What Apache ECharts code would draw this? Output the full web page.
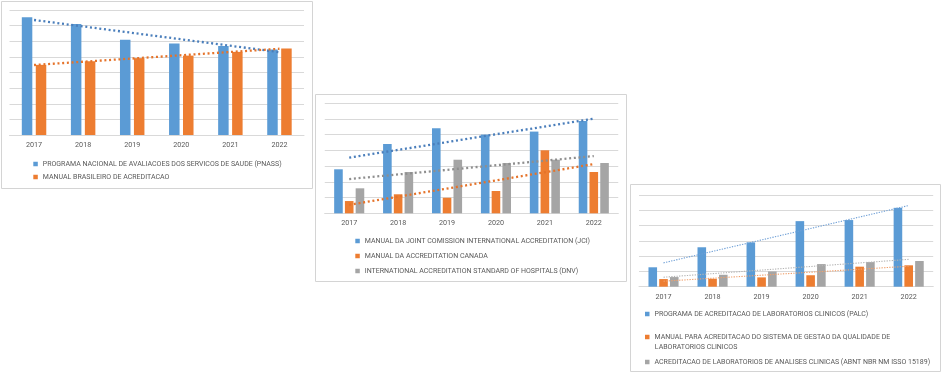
<!DOCTYPE html>
<html>
<head>
<meta charset="utf-8">
<script src="https://cdn.jsdelivr.net/npm/echarts@6/dist/echarts.min.js"></script>
<style>
html,body{margin:0;padding:0;background:#fff;}
#c{width:944px;height:376px;}
</style>
</head>
<body>
<div id="c"></div>
<script>
// ---- data ----
var categories = ['2017', '2018', '2019', '2020', '2021', '2022'];

// panel 1
var pnassName = 'PROGRAMA NACIONAL DE AVALIACOES DOS SERVICOS DE SAUDE (PNASS)';
var mbaName = 'MANUAL BRASILEIRO DE ACREDITACAO';
var pnass = [7.54, 7.10, 6.09, 5.85, 5.70, 5.47];
var mba = [4.49, 4.72, 4.92, 5.08, 5.32, 5.53];
var pnassTrend = [7.36, 5.30];
var mbaTrend = [4.48, 5.52];

// panel 2
var jciName = 'MANUAL DA JOINT COMISSION INTERNATIONAL ACCREDITATION (JCI)';
var canadaName = 'MANUAL DA ACCREDITATION CANADA';
var dnvName = 'INTERNATIONAL ACCREDITATION STANDARD OF HOSPITALS (DNV)';
var jci = [2.80, 4.41, 5.41, 5.01, 5.20, 5.88];
var canada = [0.78, 1.21, 0.99, 1.42, 4.01, 2.63];
var dnv = [1.59, 2.63, 3.41, 3.20, 3.41, 3.20];
var jciTrend = [3.54, 6.02];
var canadaTrend = [0.54, 3.13];
var dnvTrend = [2.18, 3.64];

// panel 3
var palcName = 'PROGRAMA DE ACREDITACAO DE LABORATORIOS CLINICOS (PALC)';
var sgqName = 'MANUAL PARA ACREDITACAO DO SISTEMA DE GESTAO DA QUALIDADE DE\nLABORATORIOS CLINICOS';
var abntName = 'ACREDITACAO DE LABORATORIOS DE ANALISES CLINICAS (ABNT NBR NM ISSO 15189)';
var palc = [1.27, 2.58, 2.90, 4.29, 4.36, 5.16];
var sgq = [0.50, 0.52, 0.61, 0.75, 1.31, 1.40];
var abnt = [0.63, 0.78, 1.00, 1.48, 1.61, 1.68];
var palcTrend = [1.56, 5.31];
var sgqTrend = [0.36, 1.34];
var abntTrend = [0.62, 1.79];

// ---- styles ----
var BLUE = '#5B9BD5', ORANGE = '#ED7D31', GREY = '#A5A5A5';
var FONT = 'Roboto';
var TXT = '#595959';
var GRIDC = '#D9D9D9';

function trendData(t) {
  return [[categories[0], t[0]], [categories[categories.length - 1], t[1]]];
}

function xAxis(gi) {
  return {
    type: 'category', gridIndex: gi, data: categories,
    axisLine: {show: true, lineStyle: {color: GRIDC, width: 1}},
    axisTick: {show: false},
    axisLabel: {color: TXT, fontFamily: FONT, fontSize: 7.2, margin: 6, lineHeight: 8}
  };
}
function yAxis(gi, max) {
  return {
    type: 'value', gridIndex: gi, min: 0, max: max, interval: 1,
    axisLine: {show: false}, axisTick: {show: false}, axisLabel: {show: false},
    splitLine: {lineStyle: {color: GRIDC, width: 1}}
  };
}
function bar(name, data, gi, color, w, gap) {
  return {
    type: 'bar', name: name, data: data, xAxisIndex: gi, yAxisIndex: gi,
    barWidth: w, barGap: gap, itemStyle: {color: color}, z: 2
  };
}
function trend(t, gi, color, width, dash) {
  return {
    type: 'line', data: trendData(t), xAxisIndex: gi, yAxisIndex: gi,
    symbol: 'none', silent: true, z: 4,
    lineStyle: {color: color, width: width, type: dash, cap: 'butt'}
  };
}
function leg(name, left, top, firstLineOnly) {
  var l = {
    data: [name], left: left, top: top, orient: 'vertical', padding: 0,
    icon: 'rect', itemWidth: 4.5, itemHeight: 4.5, selectedMode: false,
    textStyle: {color: TXT, fontFamily: FONT, fontSize: 7, lineHeight: 8}
  };
  if (firstLineOnly) {
    l.formatter = function (n) { return n.split('\n')[0]; };
  }
  return l;
}

var option = {
  animation: false,
  backgroundColor: '#fff',
  graphic: {elements: [
    {type: 'rect', shape: {x: 1.5, y: 1.5, width: 311, height: 187}, style: {fill: 'none', stroke: '#D4D4D4', lineWidth: 1}},
    {type: 'rect', shape: {x: 315.5, y: 94.5, width: 311, height: 187}, style: {fill: 'none', stroke: '#D4D4D4', lineWidth: 1}},
    {type: 'rect', shape: {x: 630.5, y: 184.5, width: 310, height: 187}, style: {fill: 'none', stroke: '#D4D4D4', lineWidth: 1}},
    {type: 'text', x: 654.8, y: 347, style: {text: sgqName.split('\n')[1], fill: TXT, font: '7px Roboto', verticalAlign: 'middle', align: 'left'}}
  ]},
  grid: [
    {left: 9.5, top: 10, width: 294.5, height: 125},
    {left: 324.75, top: 103.3, width: 293.5, height: 110},
    {left: 639, top: 195, width: 294.2, height: 91.7}
  ],
  xAxis: [xAxis(0), xAxis(1), xAxis(2)],
  yAxis: [yAxis(0, 8), yAxis(1, 7), yAxis(2, 6)],
  legend: [
    leg(pnassName, 33.3, 160),
    leg(mbaName, 33.3, 173),
    leg(jciName, 355.3, 237),
    leg(canadaName, 355.3, 252),
    leg(dnvName, 355.3, 267),
    leg(palcName, 645, 310),
    leg(sgqName, 645, 333, true),
    leg(abntName, 645, 358)
  ],
  series: [
    bar(pnassName, pnass, 0, BLUE, 10.5, '33%'),
    bar(mbaName, mba, 0, ORANGE, 10.5, '33%'),
    trend(pnassTrend, 0, '#4A7EBB', 2.3, [2, 2.7]),
    trend(mbaTrend, 0, '#E5732A', 2.3, [2, 2.7]),

    bar(jciName, jci, 1, BLUE, 8.6, '25%'),
    bar(canadaName, canada, 1, ORANGE, 8.6, '25%'),
    bar(dnvName, dnv, 1, GREY, 8.6, '25%'),
    trend(jciTrend, 1, '#4A7EBB', 2.3, [2, 2.7]),
    trend(canadaTrend, 1, '#E5732A', 2.3, [2, 2.7]),
    trend(dnvTrend, 1, '#8E8E8E', 2.3, [2, 2.7]),

    bar(palcName, palc, 2, BLUE, 8.6, '25%'),
    bar(sgqName, sgq, 2, ORANGE, 8.6, '25%'),
    bar(abntName, abnt, 2, GREY, 8.6, '25%'),
    trend(palcTrend, 2, '#6E9FD6', 1.1, [1.3, 1.3]),
    trend(sgqTrend, 2, '#F0A06C', 1.1, [1.3, 1.3]),
    trend(abntTrend, 2, '#B5B5B5', 1.1, [1.3, 1.3])
  ]
};

var chart = echarts.init(document.getElementById('c'), null, {renderer: 'canvas'});
chart.setOption(option);
</script>
</body>
</html>
